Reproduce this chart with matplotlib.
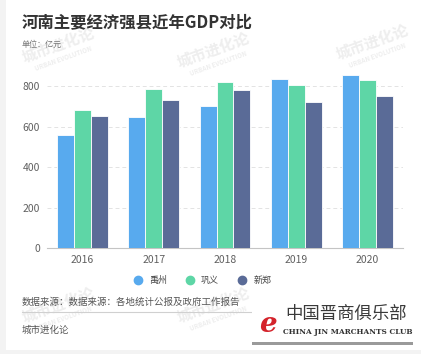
import matplotlib
matplotlib.use('Agg')
import numpy as np
import matplotlib.pyplot as plt
from matplotlib.patches import Rectangle

plt.rcParams['font.family'] = ['Noto Sans CJK SC', 'DejaVu Sans']

years = ['2016', '2017', '2018', '2019', '2020']
series_names = ['禹州', '巩义', '新郑']
yuzhou = [559, 650, 701, 837, 854]
gongyi = [684, 787, 820, 805, 830]
xinzheng = [653, 734, 783, 724, 752]
colors = ['#58aaee', '#5ed6a6', '#5a6b97']

W, H = 421, 354
fig = plt.figure(figsize=(W / 100, H / 100), dpi=100)
fig.patch.set_facecolor('#f3f3f3')
fig.patches.append(Rectangle((6 / W, 4 / H), (W - 6) / W, (H - 4) / H,
                             transform=fig.transFigure, facecolor='white',
                             edgecolor='none', zorder=-10))

# faint watermarks
for wx, wy in [(58, 45), (213, 50), (372, 42), (58, 305), (213, 305)]:
    fig.text(wx / W, 1 - wy / H, '城市进化论', fontsize=11, fontweight='bold',
             color='#eeeeee', rotation=20, ha='center', va='center', zorder=-5)
    fig.text((wx + 5) / W, 1 - (wy + 13) / H, 'URBAN EVOLUTION', fontsize=4.5,
             fontweight='bold', color='#eeeeee', rotation=20, ha='center',
             va='center', zorder=-5)

ax = fig.add_axes([47 / W, 1 - 248.3 / H, 356 / W, (248.3 - 70.1) / H])
ax.set_facecolor('none')
x = np.arange(len(years))
bw = 0.238
for i, (vals, c) in enumerate(zip([yuzhou, gongyi, xinzheng], colors)):
    ax.bar(x + (i - 1) * bw, vals, width=bw, color=c, edgecolor='white',
           linewidth=0.6, label=series_names[i], zorder=3)

ax.set_xlim(-0.5, 4.5)
ax.set_ylim(0, 880)
ax.set_yticks([0, 200, 400, 600, 800])
ax.set_xticks(x)
ax.set_xticklabels(years)
ax.tick_params(axis='both', length=0, labelsize=7.5, colors='#606060')
ax.tick_params(axis='y', pad=5)
ax.tick_params(axis='x', pad=5)
ax.grid(axis='y', color='#e3e3e3', linestyle=(0, (4, 3)), linewidth=0.7, zorder=0)
for s in ['top', 'right', 'left']:
    ax.spines[s].set_visible(False)
ax.spines['bottom'].set_color('#c4c4c4')
ax.spines['bottom'].set_linewidth(0.8)

handles = [plt.Line2D([], [], marker='o', linestyle='none', markersize=6,
                      markerfacecolor=c, markeredgecolor=c) for c in colors]
fig.legend(handles, series_names, loc='center', bbox_to_anchor=(200 / W, 1 - 280.7 / H),
           ncol=3, frameon=False, fontsize=6.5, handletextpad=0.2,
           columnspacing=1.6, labelcolor='#444444')

fig.text(22 / W, 1 - 22 / H, '河南主要经济强县近年GDP对比', fontsize=11.8,
         fontweight='bold', color='#333333', va='center')
fig.text(22 / W, 1 - 44 / H, '单位：亿元', fontsize=5.8, color='#777777', va='center')
fig.text(22 / W, 1 - 301.7 / H, '数据来源：数据来源：各地统计公报及政府工作报告',
         fontsize=6.8, color='#555555', va='center')
fig.add_artist(plt.Line2D([22 / W, 260 / W], [1 - 312.3 / H] * 2,
                          transform=fig.transFigure, color='#d0d0d0', linewidth=0.8))
fig.text(22 / W, 1 - 330 / H, '城市进化论', fontsize=6.8, color='#555555', va='center')

# logo block
fig.patches.append(Rectangle((252 / W, 1 - 343 / H), 161 / W, 41 / H,
                             transform=fig.transFigure, facecolor='white',
                             edgecolor='none', zorder=2))
fig.patches.append(Rectangle((252 / W, 1 - 345 / H), 161 / W, 3 / H,
                             transform=fig.transFigure, facecolor='#9a9a9a',
                             edgecolor='none', zorder=2))
fig.text(268 / W, 1 - 324 / H, 'e', fontsize=20, color='#d4232b', style='italic',
         fontweight='bold', ha='center', va='center', family='DejaVu Serif', zorder=3)
fig.text(346 / W, 1 - 314 / H, '中国晋商俱乐部', fontsize=12.5, color='#3a3a3a',
         ha='center', va='center', zorder=3)
fig.text(348 / W, 1 - 332 / H, 'CHINA JIN MARCHANTS CLUB', fontsize=5.3, color='#333333',
         ha='center', va='center', family='DejaVu Serif', fontweight='bold', zorder=3)

fig.savefig('out.png', dpi=100, facecolor=fig.get_facecolor())
